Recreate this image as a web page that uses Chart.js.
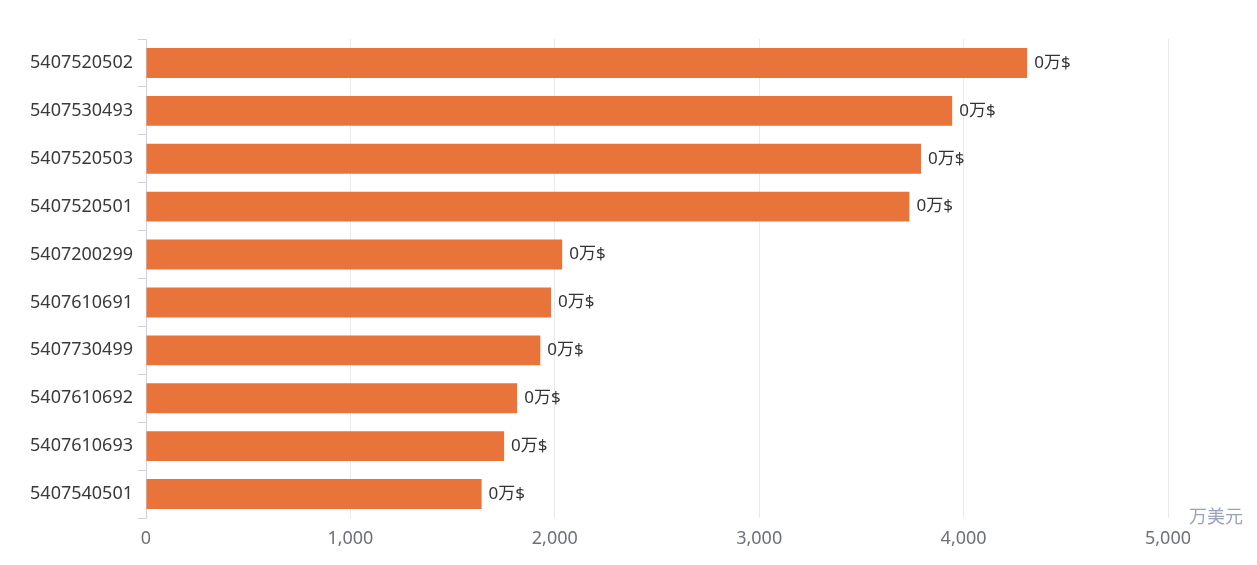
<!DOCTYPE html>
<html>
<head>
<meta charset="utf-8">
<script src="https://cdn.jsdelivr.net/npm/chart.js@4"></script>
<style>
  html, body { margin: 0; padding: 0; background: #fff; }
  #wrap { width: 1257px; height: 565px; }
</style>
</head>
<body>
<div id="wrap"><canvas id="hsChart"></canvas></div>
<script>
const codes = ['5407520502', '5407530493', '5407520503', '5407520501', '5407200299',
               '5407610691', '5407730499', '5407610692', '5407610693', '5407540501'];
const amounts = [4311, 3944, 3792, 3735, 2036, 1982, 1929, 1816, 1752, 1642];
const valueLabels = ['0万$', '0万$', '0万$', '0万$', '0万$', '0万$', '0万$', '0万$', '0万$', '0万$'];
const xTicks = [0, 1000, 2000, 3000, 4000, 5000];
const unitName = '万美元';

const fontFamily = '"Noto Sans", "Noto Sans CJK SC", sans-serif';

// value text at the end of each bar + unit name next to the x axis
const barLabels = {
    id: 'barLabels',
    afterDatasetsDraw(chart) {
        const ctx = chart.ctx;
        const meta = chart.getDatasetMeta(0);
        ctx.save();
        ctx.font = '17px ' + fontFamily;
        ctx.fillStyle = '#333';
        ctx.textAlign = 'left';
        ctx.textBaseline = 'middle';
        meta.data.forEach((bar, i) => {
            ctx.fillText(valueLabels[i], bar.x + 7, bar.y);
        });
        const area = chart.chartArea;
        ctx.fillStyle = '#9aa3b5';
        ctx.font = '18px ' + fontFamily;
        ctx.fillText(unitName, area.right + 21, area.bottom);
        ctx.restore();
    }
};

new Chart(document.getElementById('hsChart'), {
    type: 'bar',
    data: {
        labels: codes,
        datasets: [{
            data: amounts,
            backgroundColor: '#e8743b',
            categoryPercentage: 1,
            barPercentage: 0.625
        }]
    },
    options: {
        indexAxis: 'y',
        responsive: true,
        maintainAspectRatio: false,
        animation: false,
        layout: { padding: { top: 39, right: 89, left: 0, bottom: 0 } },
        plugins: {
            legend: { display: false },
            tooltip: { enabled: false }
        },
        scales: {
            x: {
                min: 0,
                max: 5000,
                afterBuildTicks: (axis) => { axis.ticks = xTicks.map(v => ({ value: v })); },
                afterFit: (axis) => { axis.height = 47; },
                grid: { color: '#e6e9ef', drawTicks: false },
                border: { display: false },
                ticks: {
                    padding: 10,
                    color: '#6e7079',
                    font: { size: 18, family: fontFamily },
                    callback: (v) => v.toLocaleString('en-US')
                }
            },
            y: {
                afterFit: (axis) => { axis.width = 146; },
                grid: {
                    offset: true,
                    drawOnChartArea: false,
                    tickLength: 8,
                    color: '#ccd1db'
                },
                border: { display: true, color: '#ccd1db' },
                ticks: {
                    padding: 5,
                    color: '#3a3a3a',
                    font: { size: 18, family: fontFamily }
                }
            }
        }
    },
    plugins: [barLabels]
});
</script>
</body>
</html>
